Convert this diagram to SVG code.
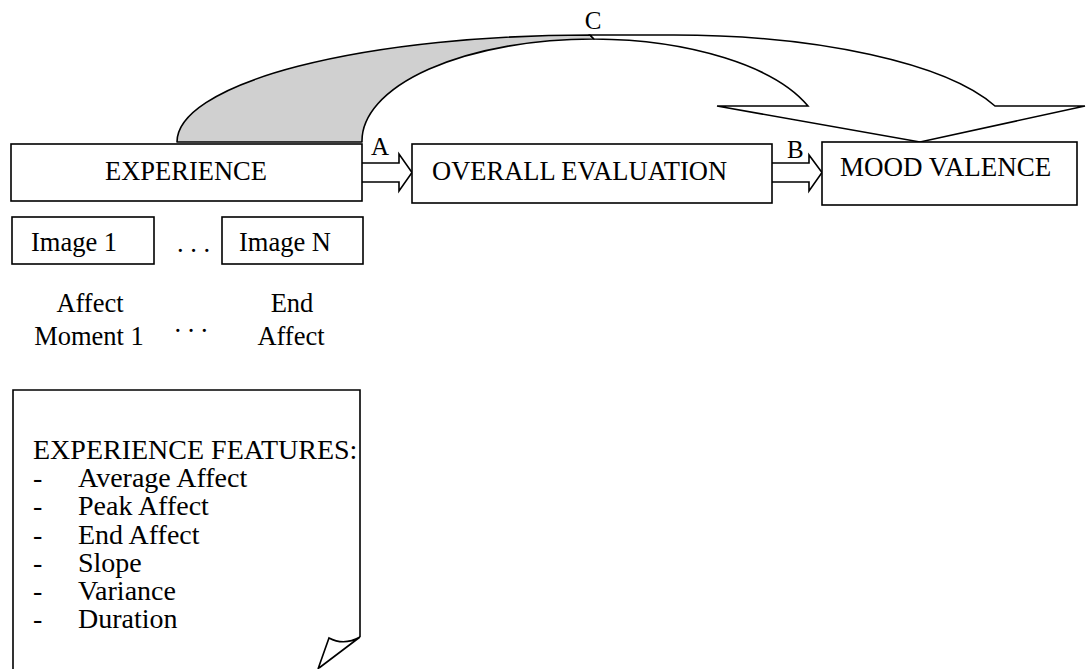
<svg xmlns="http://www.w3.org/2000/svg" width="1087" height="669" viewBox="0 0 1087 669">
  <style>
    .box { fill: #ffffff; stroke: #000000; stroke-width: 1.6; }
    .line { fill: none; stroke: #000000; stroke-width: 1.6; stroke-linejoin: miter; }
    .back { fill: #d0d0d0; stroke: #000000; stroke-width: 1.6; stroke-linejoin: round; }
    .front { fill: #ffffff; stroke: #000000; stroke-width: 1.6; stroke-linejoin: miter; }
    .block { fill: #ffffff; stroke: #000000; stroke-width: 1.6; stroke-linejoin: miter; }
    text { font-family: "Liberation Serif", "Times New Roman", serif; font-size: 26.5px; fill: #000000; }
    .lbl { font-size: 25px; }
    .note { font-size: 28px; }
    .mid { text-anchor: middle; }
  </style>
  <rect width="1087" height="669" fill="#ffffff"/>

  <!-- connectors -->
  <g id="connectors">
    <!-- C: curved band arrow from EXPERIENCE over to MOOD VALENCE -->
    <g id="arrow-c">
      <path class="back" d="M177,142 A413,107 0 0 1 590,35 L594,39 A231,102 0 0 0 362,142 Z"/>
      <path class="front" d="M594,39 A231,102 0 0 1 808,106 L717,106 L920,142 L1085,106 L995,106 A341,107 0 0 0 674,35 L590,35 Z"/>
      <text class="lbl mid" x="593" y="29">C</text>
    </g>
    <!-- A: EXPERIENCE to OVERALL EVALUATION -->
    <g id="arrow-a">
      <path class="block" d="M362,163 L399,163 L399,154 L412,172.5 L399,191 L399,182 L362,182"/>
      <text class="lbl" x="371" y="155">A</text>
    </g>
    <!-- B: OVERALL EVALUATION to MOOD VALENCE -->
    <g id="arrow-b">
      <path class="block" d="M772,163 L809,163 L809,155 L822,172.5 L809,191 L809,182 L772,182"/>
      <text class="lbl" x="787" y="158">B</text>
    </g>
  </g>

  <g id="experience">
    <rect class="box" x="11" y="144" width="351" height="57"/>
    <text class="mid" x="186" y="180">EXPERIENCE</text>
  </g>

  <g id="overall-evaluation">
    <rect class="box" x="412" y="144" width="360" height="59"/>
    <text x="432" y="180">OVERALL EVALUATION</text>
  </g>

  <g id="mood-valence">
    <rect class="box" x="822" y="142" width="255" height="63"/>
    <text x="840" y="176" style="font-size:27px">MOOD VALENCE</text>
  </g>

  <g id="image-1">
    <rect class="box" x="12" y="217" width="142" height="47"/>
    <text x="31" y="251">Image 1</text>
  </g>

  <g id="image-gap">
    <text x="177" y="252">. . .</text>
  </g>

  <g id="image-n">
    <rect class="box" x="222" y="217" width="141" height="47"/>
    <text x="239" y="251">Image N</text>
  </g>

  <g id="affect-moment-1">
    <text class="mid" x="90" y="312">Affect</text>
    <text class="mid" x="89" y="345">Moment 1</text>
  </g>

  <g id="affect-gap">
    <text class="mid" x="191" y="332">. . .</text>
  </g>

  <g id="end-affect">
    <text class="mid" x="292" y="312">End</text>
    <text class="mid" x="291" y="345">Affect</text>
  </g>

  <!-- note sheet with curled lower-right corner -->
  <g id="experience-features">
    <path class="line" d="M13,669 L13,390 L360,390 L360,637"/>
    <path class="line" d="M360,637 Q344,646 329,638 L318,669 M360,637 L319,668"/>
    <text class="note" x="33" y="459">EXPERIENCE FEATURES:</text>
    <text class="note" x="33" y="487">-</text><text class="note" x="78" y="487">Average Affect</text>
    <text class="note" x="33" y="515">-</text><text class="note" x="78" y="515">Peak Affect</text>
    <text class="note" x="33" y="544">-</text><text class="note" x="78" y="544">End Affect</text>
    <text class="note" x="33" y="572">-</text><text class="note" x="78" y="572">Slope</text>
    <text class="note" x="33" y="600">-</text><text class="note" x="78" y="600">Variance</text>
    <text class="note" x="33" y="628">-</text><text class="note" x="78" y="628">Duration</text>
  </g>
</svg>
